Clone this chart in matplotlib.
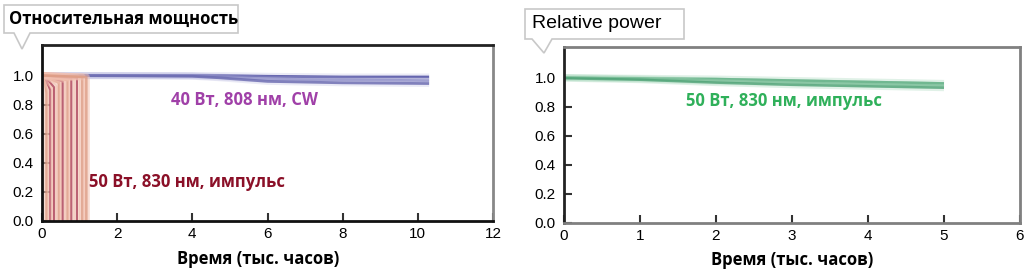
import matplotlib
matplotlib.use("Agg")
import matplotlib.pyplot as plt
from matplotlib.patches import Polygon

# ---------------- data ----------------
# left panel: 40 W, 808 nm, CW (several devices), time in thousand hours
cw_t = [0.0, 2.0, 4.0, 4.7, 6.0, 8.0, 10.3]
cw_p1 = [1.0, 1.0, 1.0, 1.0, 0.995, 0.99, 0.99]
cw_p2 = [1.0, 1.0, 0.998, 0.99, 0.975, 0.97, 0.965]
cw_p3 = [1.0, 0.998, 0.995, 0.985, 0.96, 0.95, 0.945]

# left panel: 50 W, 830 nm, pulsed (devices failing early)
qcw_fail_t = [0.12, 0.22, 0.32, 0.45, 0.55, 0.68, 0.78, 0.93, 1.07, 1.18]
qcw_knee_p = [0.88, 0.9, 0.92, 0.95, 0.96, 0.97, 0.98, 0.985, 0.99, 0.99]
qcw_dark = [False, True, True, False, True, False, True, True, False, False]

# right panel: 50 W, 830 nm, pulsed (long life)
pl_t = [0.0, 1.0, 2.0, 3.0, 4.0, 5.0]
pl_p1 = [1.0, 0.995, 0.99, 0.98, 0.97, 0.96]
pl_p2 = [1.0, 0.99, 0.975, 0.965, 0.955, 0.945]
pl_p3 = [0.995, 0.985, 0.965, 0.95, 0.94, 0.93]

left_xticks = [0, 2, 4, 6, 8, 10, 12]
right_xticks = [0, 1, 2, 3, 4, 5, 6]
yticks = [0.0, 0.2, 0.4, 0.6, 0.8, 1.0]
ytick_labels = ["0.0", "0.2", "0.4", "0.6", "0.8", "1.0"]

# ---------------- figure ----------------
W, H = 1025, 280
fig = plt.figure(figsize=(W / 100, H / 100), dpi=100)
fig.patch.set_facecolor("white")

def fx(px):
    return px / W

def fy(py):
    return 1 - py / H

tick_font = dict(family="Liberation Sans", size=11)
lab_font = dict(family="Open Sans", weight="bold")

axL = fig.add_axes([fx(42), fy(221), fx(493) - fx(42), fy(45) - fy(221)])
axR = fig.add_axes([fx(564), fy(223), fx(1020) - fx(564), fy(47) - fy(223)])

for ax, xt, xmax in ((axL, left_xticks, 12), (axR, right_xticks, 6)):
    ax.set_xlim(0, xmax)
    ax.set_ylim(0, 1.21)
    ax.set_xticks(xt)
    ax.set_xticklabels([str(v) for v in xt], **tick_font)
    ax.set_yticks(yticks)
    ax.set_yticklabels(ytick_labels, **tick_font)
    ax.tick_params(direction="in", length=6, width=1.5, color="#333333", pad=4)
    ax.tick_params(axis="y", pad=6)
    for s in ax.spines.values():
        s.set_linewidth(2)
    ax.set_xlabel("Время (тыс. часов)", fontsize=12, **lab_font)

axL.xaxis.set_label_coords((258 - 42) / (493 - 42), -(259 - 221) / (221 - 45), transform=axL.transAxes)
axL.xaxis.label.set_va("center")
axR.xaxis.set_label_coords(0.5, -(260 - 223) / (223 - 47), transform=axR.transAxes)
axR.xaxis.label.set_va("center")

axL.spines["left"].set_color("#111111")
axL.spines["bottom"].set_color("#111111")
axL.spines["top"].set_color("#222222")
axL.spines["right"].set_color("#888888")
axR.spines["left"].set_color("#222222")
for k in ("top", "right", "bottom"):
    axR.spines[k].set_color("#808080")

# CW curves
for p, c, a in ((cw_p1, "#5656a6", 0.9), (cw_p2, "#8080c0", 0.7), (cw_p3, "#6a6ab0", 0.8)):
    axL.plot(cw_t, p, color="#b0b0dc", lw=5, alpha=0.25, solid_capstyle="butt")
    axL.plot(cw_t, p, color=c, lw=2.0, alpha=a, solid_capstyle="butt")

# pulsed failing curves
for tf, kp, dk in zip(qcw_fail_t, qcw_knee_p, qcw_dark):
    xs = [0.0, 0.06, tf, tf]
    ys = [1.0, 1.0, kp, 0.0]
    axL.plot(xs, ys, color="#f2c0b0", lw=5, alpha=0.55, solid_capstyle="butt")
    axL.plot(xs, ys, color="#a83a55" if dk else "#dc9a82", lw=1.5 if dk else 1.8,
             alpha=0.75, solid_capstyle="butt")

# right panel green curves
for p, c, a in ((pl_p1, "#3c9a68", 0.85), (pl_p2, "#5aae80", 0.7), (pl_p3, "#4a9f72", 0.75)):
    axR.plot(pl_t, p, color="#a8d8bc", lw=5, alpha=0.35, solid_capstyle="butt")
    axR.plot(pl_t, p, color=c, lw=1.8, alpha=a, solid_capstyle="butt")

# series labels
fig.text(fx(171), fy(100), "40 Вт, 808 нм, CW", color="#a040a8", fontsize=12,
         va="center", ha="left", **lab_font)
fig.text(fx(89), fy(182), "50 Вт, 830 нм, импульс", color="#8b1028", fontsize=12,
         va="center", ha="left", **lab_font)
fig.text(fx(686), fy(101), "50 Вт, 830 нм, импульс", color="#2fb05a", fontsize=12,
         va="center", ha="left", **lab_font)

# callout boxes with titles
def callout(x0, y0, x1, y1, b0, b1, tipx, tipy):
    pts = [(x0, y0), (x1, y0), (x1, y1), (b1, y1), (tipx, tipy), (b0, y1), (x0, y1)]
    poly = Polygon([(fx(a), fy(b)) for a, b in pts], closed=True,
                   transform=fig.transFigure, facecolor="white",
                   edgecolor="#c8c8c8", lw=1.2, zorder=5)
    fig.patches.append(poly)

callout(4, 5, 238, 33, 14, 30, 22, 49)
fig.text(fx(9), fy(19), "Относительная мощность", fontsize=12, color="black",
         va="center", ha="left", family="Open Sans", weight="bold", zorder=6)
callout(525, 9, 684, 39, 532, 552, 544, 53)
fig.text(fx(532), fy(24), "Relative power", fontsize=14, color="black",
         va="center", ha="left", family="Liberation Sans", zorder=6)

fig.savefig("out.png", dpi=100)
